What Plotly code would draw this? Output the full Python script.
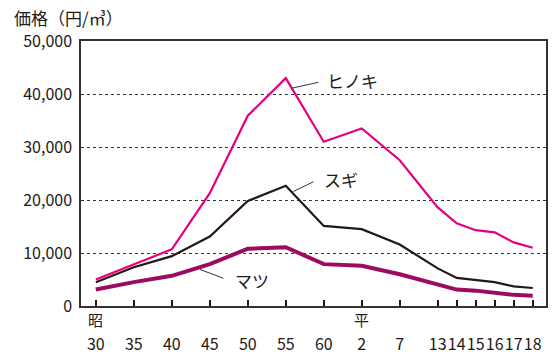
import plotly.graph_objects as go

# Timber price per cubic metre (yen), Showa 30 – Heisei 18
years = ["30", "35", "40", "45", "50", "55", "60", "2", "7",
         "13", "14", "15", "16", "17", "18"]
# Horizontal slot for each year: 5-year steps, then single years at half width
slots = [0, 1, 2, 3, 4, 5, 6, 7, 8, 9, 9.5, 10, 10.5, 11, 11.5]

hinoki = [5000, 7800, 10700, 21300, 35900, 43000, 31000, 33500, 27500,
          18600, 15600, 14300, 13900, 12000, 11000]
sugi = [4500, 7300, 9400, 13100, 19800, 22700, 15100, 14500, 11600,
        7100, 5300, 4900, 4500, 3700, 3400]
matsu = [3100, 4500, 5700, 7900, 10800, 11100, 7900, 7600, 6000,
         4000, 3100, 2900, 2500, 2100, 1950]

yticks = [0, 10000, 20000, 30000, 40000, 50000]

FONT = "Noto Sans CJK JP"
PINK = "#E4007F"
BLACK = "#231815"
PLUM = "#9C0B5F"

fig = go.Figure()
fig.add_trace(go.Scatter(x=slots, y=hinoki, mode="lines",
                         line=dict(color=PINK, width=2.2), name="ヒノキ"))
fig.add_trace(go.Scatter(x=slots, y=sugi, mode="lines",
                         line=dict(color=BLACK, width=2.2), name="スギ"))
fig.add_trace(go.Scatter(x=slots, y=matsu, mode="lines",
                         line=dict(color=PLUM, width=4), name="マツ"))

# Series labels with short leader lines
labels = [
    ("ヒノキ", (5.16, 41100), (5.86, 42200), (6.03, 42600)),
    ("スギ", (5.20, 21600), (5.73, 23450), (5.96, 23800)),
    ("マツ", (2.74, 6900), (3.36, 5230), (3.61, 4900)),
]
for text, p0, p1, pt in labels:
    fig.add_shape(type="line", xref="x", yref="y",
                  x0=p0[0], y0=p0[1], x1=p1[0], y1=p1[1],
                  line=dict(color="#333333", width=1))
    fig.add_annotation(x=pt[0], y=pt[1], xref="x", yref="y", text=text,
                       showarrow=False, xanchor="left", yanchor="middle",
                       font=dict(family=FONT, size=17, color="#231815"))

# Era markers above the first year of each era
for era, s in [("昭", 0), ("平", 7)]:
    fig.add_annotation(x=s, y=-0.052, xref="x", yref="paper", text=era,
                       showarrow=False, xanchor="center", yanchor="middle",
                       font=dict(family=FONT, size=15, color="#231815"))

# Axis unit
fig.add_annotation(x=-0.148, y=1.09, xref="paper", yref="paper",
                   text="価格（円/㎥）", showarrow=False,
                   xanchor="left", yanchor="middle",
                   font=dict(family=FONT, size=17, color="#231815"))

fig.update_xaxes(
    range=[-0.39, 11.85], tickmode="array", tickvals=slots, ticktext=years,
    tickangle=0, ticks="inside", ticklen=6, tickwidth=2, tickcolor="#231815",
    showline=True, linecolor="#333333", linewidth=1.5, mirror=True,
    showgrid=False, zeroline=False, ticklabelstandoff=23, automargin=False,
    tickfont=dict(family=FONT, size=16, color="#231815"),
)
fig.update_yaxes(
    range=[0, 50000], tickmode="array", tickvals=yticks, tickformat=",d",
    ticks="", showline=True, linecolor="#333333", linewidth=1.5, mirror=True,
    showgrid=True, gridcolor="#333333", gridwidth=1, griddash="3px,3px",
    zeroline=False, ticklabelstandoff=4, automargin=False,
    tickfont=dict(family=FONT, size=16, color="#231815"),
)

fig.update_layout(
    width=552, height=354, showlegend=False,
    margin=dict(l=81, r=6, t=41, b=48),
    paper_bgcolor="white", plot_bgcolor="white",
)

fig.write_html("out.html")
